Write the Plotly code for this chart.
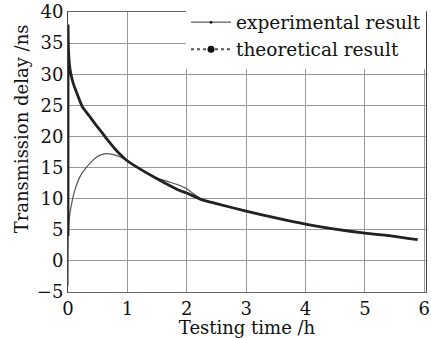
import plotly.graph_objects as go

# Theoretical result (thick curve)
theo_t = [0, 0.001, 0.005, 0.01, 0.025, 0.047, 0.09, 0.14, 0.24, 0.35, 0.45, 0.55, 0.67, 0.8, 0.97,
          1.19, 1.5, 1.86, 2.0, 2.25, 2.5, 3.0, 3.5, 4.0, 4.5, 5.0, 5.5, 5.89]
theo_v = [4, 38, 35, 33.5, 31.5, 30.1, 28.5, 27.2, 24.8, 23.4, 22.1, 20.9, 19.4, 17.9, 16.3,
          14.9, 13.2, 11.4, 10.9, 9.85, 9.2, 8.0, 6.9, 5.9, 5.1, 4.45, 3.95, 3.4]

# Experimental result (thin curve)
exp_t = [0, 0.005, 0.015, 0.03, 0.07, 0.11, 0.2, 0.3, 0.4, 0.5, 0.61, 0.7, 0.8, 0.97,
         1.19, 1.5, 1.7, 1.86, 2.0, 2.1, 2.25, 2.5, 3.0, 3.5, 4.0, 4.5, 5.0, 5.5, 5.89]
exp_v = [-4, 3.5, 6, 7.5, 9.6, 11.2, 13.5, 14.9, 16.0, 16.8, 17.2, 17.2, 17.0, 16.3,
         14.9, 13.3, 12.7, 12.2, 11.6, 10.9, 9.9, 9.2, 8.0, 6.9, 5.9, 5.1, 4.45, 3.95, 3.4]

x_ticks = [0, 1, 2, 3, 4, 5, 6]
y_ticks = [-5, 0, 5, 10, 15, 20, 25, 30, 35, 40]

FONT = "DejaVu Serif"

fig = go.Figure()
fig.add_trace(go.Scatter(x=exp_t, y=exp_v, mode="lines",
                         line=dict(color="#555555", width=1.2, shape="spline", smoothing=0.6),
                         showlegend=False))
fig.add_trace(go.Scatter(x=theo_t, y=theo_v, mode="lines",
                         line=dict(color="#222222", width=2.8, shape="spline", smoothing=0.6),
                         showlegend=False))
# legend entries
fig.add_trace(go.Scatter(x=[None], y=[None], mode="lines+markers", name="experimental result",
                         line=dict(color="#333333", width=1), marker=dict(size=3, color="#222222")))
fig.add_trace(go.Scatter(x=[None], y=[None], mode="lines+markers", name="theoretical result",
                         line=dict(color="#555555", width=2, dash="dot"),
                         marker=dict(size=7, color="#111111")))

fig.update_layout(
    width=431, height=338,
    margin=dict(l=68, r=1, t=10, b=46),
    paper_bgcolor="white", plot_bgcolor="white",
    font=dict(family=FONT, size=17, color="#111111"),
    legend=dict(x=1, y=1.03, xanchor="right", yanchor="top", bgcolor="white",
                font=dict(family=FONT, size=18.5), itemwidth=40,
                tracegroupgap=0, borderwidth=0),
    annotations=[dict(text="Transmission delay /ns", textangle=-90,
                      xref="paper", yref="paper", x=-0.1307, y=0.5816,
                      xanchor="center", yanchor="middle", showarrow=False,
                      font=dict(family=FONT, size=18, color="#111111"))],
)
fig.update_xaxes(range=[0, 6.03], tickvals=x_ticks, ticktext=[str(v) for v in x_ticks],
                 showgrid=True, gridcolor="#999999", gridwidth=1,
                 showline=True, linecolor="#666666", mirror=True, zeroline=False,
                 ticks="", tickfont=dict(size=18), ticklabeloverflow="allow",
                 title=dict(text="Testing time /h", font=dict(size=18), standoff=4))
fig.update_yaxes(range=[-5, 40], tickvals=y_ticks,
                 showgrid=True, gridcolor="#999999", gridwidth=1,
                 showline=True, linecolor="#444444", mirror=True, zeroline=False,
                 ticks="", tickfont=dict(size=18), ticklabeloverflow="allow")

fig.write_html("out.html")
